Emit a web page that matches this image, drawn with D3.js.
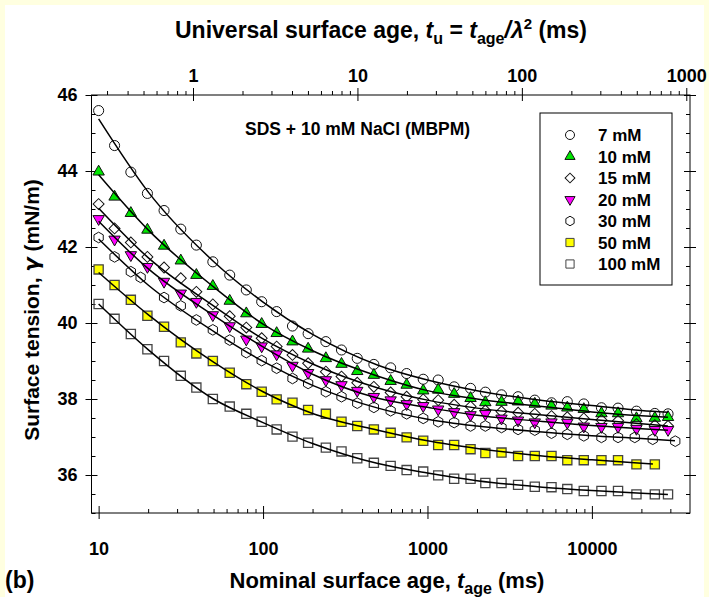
<!DOCTYPE html>
<html>
<head>
<meta charset="utf-8">
<script src="https://cdn.jsdelivr.net/npm/d3@7"></script>
<style>
  body { margin: 0; background: #ffffe0; }
  svg { display: block; font-family: "Liberation Sans", Arial, sans-serif; font-weight: bold; }
</style>
</head>
<body>
<div id="chart"></div>
<script>
// nominal surface ages (ms) shared by most series
var ages = [10.0, 12.5, 15.7, 19.8, 25.0, 31.6, 39.3, 49.5, 62.7, 79.1, 98.1, 121, 151, 188, 241, 300, 374, 472, 597, 747,
  942, 1162, 1453, 1828, 2249, 2820, 3557, 4494, 5679, 7085, 8925, 11430, 14420, 18660, 24140, 29040]
// the 30 mM run has its own ages
var ages30 = [10.0, 12.5, 15.7, 18.0, 25.0, 31.6, 39.3, 49.5, 62.7, 79.1, 98.1, 121, 151, 188, 241, 300, 374, 472, 597, 747,
  942, 1162, 1453, 1828, 2249, 2820, 3557, 4494, 5679, 7085, 8925, 11430, 14420, 18230, 23440, 32130]

// surface tension (mN/m)
var g7 = [45.59, 44.67, 43.97, 43.41, 42.96, 42.47, 42.05, 41.61, 41.26, 40.87, 40.56, 40.30, 39.92, 39.72, 39.51, 39.29,
  39.07, 38.91, 38.82, 38.67, 38.52, 38.50, 38.32, 38.28, 38.18, 38.11, 38.06, 37.97, 37.90, 37.93, 37.87, 37.77, 37.76,
  37.68, 37.62, 37.61]
var g10 = [43.98, 43.32, 42.89, 42.45, 42.03, 41.64, 41.26, 40.97, 40.58, 40.25, 39.97, 39.73, 39.51, 39.32, 39.07, 38.92,
  38.73, 38.63, 38.47, 38.37, 38.22, 38.24, 38.13, 38.02, 37.91, 37.92, 37.93, 37.87, 37.82, 37.77, 37.73, 37.62, 37.62,
  37.49, 37.50, 37.52]
var g15 = [43.13, 42.49, 42.12, 41.74, 41.46, 41.18, 40.82, 40.49, 40.18, 39.88, 39.60, 39.38, 39.16, 38.94, 38.72, 38.59,
  38.43, 38.32, 38.17, 38.06, 37.99, 37.97, 37.85, 37.80, 37.70, 37.67, 37.64, 37.61, 37.55, 37.52, 37.49, 37.45, 37.43,
  37.34, 37.31, 37.29]
var g20 = [42.74, 42.20, 41.79, 41.48, 41.09, 40.78, 40.56, 40.21, 39.92, 39.57, 39.39, 39.18, 38.88, 38.69, 38.50, 38.37,
  38.22, 38.06, 37.97, 37.87, 37.82, 37.73, 37.66, 37.58, 37.61, 37.49, 37.44, 37.39, 37.39, 37.38, 37.28, 37.27, 37.27,
  37.22, 37.19, 37.19]
var g30 = [42.25, 41.74, 41.35, 41.20, 40.67, 40.45, 40.08, 39.82, 39.55, 39.22, 39.01, 38.81, 38.54, 38.41, 38.19, 38.06,
  37.89, 37.78, 37.69, 37.61, 37.49, 37.40, 37.38, 37.29, 37.29, 37.25, 37.20, 37.18, 37.10, 37.07, 37.03, 36.99, 36.99,
  36.99, 36.94, 36.89]
var g50 = [41.41, 41.00, 40.61, 40.19, 39.90, 39.49, 39.20, 39.00, 38.69, 38.39, 38.19, 37.99, 37.90, 37.71, 37.61, 37.40,
  37.29, 37.20, 37.11, 36.99, 36.90, 36.79, 36.79, 36.68, 36.58, 36.59, 36.50, 36.50, 36.50, 36.39, 36.39, 36.39, 36.39,
  36.28, 36.28, null]
var g100 = [40.50, 40.11, 39.71, 39.31, 39.00, 38.61, 38.30, 38.00, 37.80, 37.61, 37.40, 37.20, 37.01, 36.85, 36.72, 36.62,
  36.44, 36.32, 36.24, 36.13, 36.09, 35.99, 35.90, 35.90, 35.79, 35.79, 35.74, 35.69, 35.68, 35.63, 35.58, 35.58, 35.58,
  35.49, 35.49, 35.49]

// fitted curves
var fitAges = [10, 20, 50, 100, 200, 500, 1000, 2000, 5000, 10000, 20000, 29000]
var fitAges30 = [10, 20, 50, 100, 200, 500, 1000, 2000, 5000, 10000, 20000, 32000]
var fitAges50 = [10, 20, 50, 100, 200, 500, 1000, 2000, 5000, 10000, 20000, 23500]
var fit7 = [45.37, 43.45, 41.62, 40.55, 39.70, 38.89, 38.50, 38.22, 37.96, 37.83, 37.70, 37.65]
var fit10 = [43.90, 42.45, 40.95, 39.97, 39.27, 38.60, 38.22, 38.00, 37.80, 37.66, 37.56, 37.52]
var fit15 = [43.02, 41.72, 40.45, 39.58, 38.92, 38.29, 37.97, 37.76, 37.58, 37.46, 37.35, 37.29]
var fit20 = [42.68, 41.43, 40.20, 39.37, 38.65, 38.02, 37.78, 37.57, 37.41, 37.30, 37.22, 37.18]
var fit30 = [42.21, 41.00, 39.78, 38.99, 38.36, 37.76, 37.47, 37.29, 37.13, 37.03, 36.96, 36.90]
var fit50 = [41.33, 40.22, 38.97, 38.19, 37.62, 37.18, 36.90, 36.70, 36.50, 36.40, 36.31, 36.29]
var fit100 = [40.50, 39.30, 38.00, 37.38, 36.83, 36.30, 36.05, 35.85, 35.68, 35.59, 35.52, 35.49]

var labels = ['7 mM', '10 mM', '15 mM', '20 mM', '30 mM', '50 mM', '100 mM']
var lambda2 = 37.5 // t_u = t_age / lambda^2

var xMajor = [10, 100, 1000, 10000]
var topMajor = [1, 10, 100, 1000]
var yMajor = [36, 38, 40, 42, 44, 46]

// hexagon symbol (pointy top)
var symbolHexagon = {
  draw: function(context, size) {
    var r = Math.sqrt(size / (1.5 * Math.sqrt(3)))
    for (var i = 0; i < 6; i++) {
      var a = Math.PI / 3 * i - Math.PI / 2
      if (i === 0) context.moveTo(r * Math.cos(a), r * Math.sin(a))
      else context.lineTo(r * Math.cos(a), r * Math.sin(a))
    }
    context.closePath()
  }
}

var series = [
  { ages: ages, values: g7, fitAges: fitAges, fit: fit7, type: d3.symbolCircle, size: 80, fill: 'none', rot: 0 },
  { ages: ages, values: g10, fitAges: fitAges, fit: fit10, type: d3.symbolTriangle, size: 56, fill: '#00e600', rot: 0 },
  { ages: ages, values: g15, fitAges: fitAges, fit: fit15, type: d3.symbolSquare, size: 60, fill: 'none', rot: 45 },
  { ages: ages, values: g20, fitAges: fitAges, fit: fit20, type: d3.symbolTriangle, size: 56, fill: '#ff00ff', rot: 180 },
  { ages: ages30, values: g30, fitAges: fitAges30, fit: fit30, type: symbolHexagon, size: 74, fill: 'none', rot: 0 },
  { ages: ages, values: g50, fitAges: fitAges50, fit: fit50, type: d3.symbolSquare, size: 84, fill: '#ffff00', rot: 0 },
  { ages: ages, values: g100, fitAges: fitAges, fit: fit100, type: d3.symbolSquare, size: 84, fill: 'none', rot: 0 }
]

var width = 709, height = 597
var plot = { left: 91.5, right: 690, top: 95, bottom: 513 }

var svg = d3.select('#chart').append('svg')
  .attr('width', width)
  .attr('height', height)

svg.append('rect')
  .attr('x', 5).attr('y', 5)
  .attr('width', width - 10).attr('height', height - 5)
  .attr('fill', '#ffffff')

var x = d3.scaleLog().domain([9.05, 39500]).range([plot.left, plot.right])
var xTop = d3.scaleLog().domain([9.05 / lambda2, 39500 / lambda2]).range([plot.left, plot.right])
var y = d3.scaleLinear().domain([35, 46]).range([plot.bottom, plot.top])

function minorLog(scale, majors) {
  var d = scale.domain()
  return scale.ticks().filter(function(v) {
    return v >= d[0] && v <= d[1] && majors.indexOf(v) < 0
  })
}
var xMinor = minorLog(x, xMajor)
var topMinor = minorLog(xTop, topMajor)
var yMinor = d3.range(35, 46.01, 0.5).filter(function(v) { return yMajor.indexOf(v) < 0 && v % 2 !== 0 })

function clean(g) {
  g.select('.domain').remove()
  g.selectAll('line').attr('stroke', '#000').attr('stroke-width', 1)
  g.selectAll('text').attr('fill', '#000')
}

// bottom axis
svg.append('g').attr('transform', 'translate(0,' + plot.bottom + ')')
  .call(d3.axisBottom(x).tickValues(xMajor).tickSize(6).tickPadding(23).tickFormat(d3.format('d')))
  .call(clean)
  .selectAll('text').style('font-size', '18px').style('font-weight', 'bold')
svg.append('g').attr('transform', 'translate(0,' + plot.bottom + ')')
  .call(d3.axisTop(x).tickValues(xMajor).tickSize(7).tickFormat(''))
  .call(clean)
svg.append('g').attr('transform', 'translate(0,' + plot.bottom + ')')
  .call(d3.axisTop(x).tickValues(xMinor).tickSize(4).tickFormat(''))
  .call(clean)

// top axis (universal surface age)
svg.append('g').attr('transform', 'translate(0,' + plot.top + ')')
  .call(d3.axisTop(xTop).tickValues(topMajor).tickSize(7).tickPadding(6).tickFormat(d3.format('d')))
  .call(clean)
  .selectAll('text').style('font-size', '18px').style('font-weight', 'bold')
svg.append('g').attr('transform', 'translate(0,' + plot.top + ')')
  .call(d3.axisBottom(xTop).tickValues(topMajor).tickSize(6).tickFormat(''))
  .call(clean)
svg.append('g').attr('transform', 'translate(0,' + plot.top + ')')
  .call(d3.axisTop(xTop).tickValues(topMinor).tickSize(4).tickFormat(''))
  .call(clean)

// left axis
svg.append('g').attr('transform', 'translate(' + plot.left + ',0)')
  .call(d3.axisLeft(y).tickValues(yMajor).tickSize(6).tickPadding(8))
  .call(clean)
  .selectAll('text').style('font-size', '18px').style('font-weight', 'bold')
svg.append('g').attr('transform', 'translate(' + plot.left + ',0)')
  .call(d3.axisRight(y).tickValues(yMajor).tickSize(6).tickFormat(''))
  .call(clean)
svg.append('g').attr('transform', 'translate(' + plot.left + ',0)')
  .call(d3.axisRight(y).tickValues(yMinor).tickSize(4).tickFormat(''))
  .call(clean)

// right axis
svg.append('g').attr('transform', 'translate(' + plot.right + ',0)')
  .call(d3.axisRight(y).tickValues(yMajor).tickSize(6).tickFormat(''))
  .call(clean)
svg.append('g').attr('transform', 'translate(' + plot.right + ',0)')
  .call(d3.axisLeft(y).tickValues(yMajor).tickSize(6).tickFormat(''))
  .call(clean)
svg.append('g').attr('transform', 'translate(' + plot.right + ',0)')
  .call(d3.axisLeft(y).tickValues(yMinor).tickSize(4).tickFormat(''))
  .call(clean)

// frame
svg.append('rect')
  .attr('x', plot.left).attr('y', plot.top)
  .attr('width', plot.right - plot.left).attr('height', plot.bottom - plot.top)
  .attr('fill', 'none').attr('stroke', '#000').attr('stroke-width', 1)

// markers
function strokeFor(s) { return s.type === d3.symbolSquare && s.rot === 0 ? '#444' : '#111' }

series.forEach(function(s) {
  var pts = s.values.map(function(v, i) { return { t: s.ages[i], v: v } })
    .filter(function(p) { return p.v !== null })
  svg.append('g').selectAll('path')
    .data(pts)
    .enter().append('path')
    .attr('d', d3.symbol().type(s.type).size(s.size))
    .attr('transform', function(p) {
      return 'translate(' + x(p.t) + ',' + y(p.v) + ') rotate(' + s.rot + ')'
    })
    .attr('fill', s.fill)
    .attr('stroke', strokeFor(s))
    .attr('stroke-width', s.type === d3.symbolSquare && s.rot === 0 ? 1.3 : 1)
})

// fitted lines on top of the markers
var line = d3.line()
  .curve(d3.curveMonotoneX)
  .x(function(d) { return x(d[0]) })
  .y(function(d) { return y(d[1]) })

series.forEach(function(s) {
  svg.append('path')
    .attr('d', line(s.fit.map(function(v, i) { return [s.fitAges[i], v] })))
    .attr('fill', 'none')
    .attr('stroke', '#000')
    .attr('stroke-width', 1.5)
})

// legend
svg.append('rect')
  .attr('x', 540).attr('y', 113)
  .attr('width', 132).attr('height', 172)
  .attr('fill', '#fff').attr('stroke', '#000').attr('stroke-width', 1)

var legend = svg.append('g')
  .selectAll('g')
  .data(series)
  .enter().append('g')
  .attr('transform', function(d, i) { return 'translate(570,' + (135 + i * 21.5) + ')' })

legend.append('path')
  .attr('d', function(s) { return d3.symbol().type(s.type).size(s.size * 0.8)() })
  .attr('transform', function(s) { return 'rotate(' + s.rot + ')' })
  .attr('fill', function(s) { return s.fill === 'none' ? '#fff' : s.fill })
  .attr('stroke', strokeFor)
  .attr('stroke-width', 1)

legend.append('text')
  .attr('x', 28).attr('y', 6)
  .style('font-size', '17px')
  .text(function(d, i) { return labels[i] })

// annotation
svg.append('text')
  .attr('x', 245).attr('y', 135)
  .style('font-size', '17.5px')
  .text('SDS + 10 mM NaCl (MBPM)')

// top title
var tt = svg.append('text')
  .attr('x', 381).attr('y', 38)
  .attr('text-anchor', 'middle')
  .style('font-size', '23px')
tt.append('tspan').text('Universal surface age, ')
tt.append('tspan').style('font-style', 'italic').text('t')
tt.append('tspan').attr('dy', 6).style('font-size', '16px').text('u')
tt.append('tspan').attr('dy', -6).text(' = ')
tt.append('tspan').style('font-style', 'italic').text('t')
tt.append('tspan').attr('dy', 6).style('font-size', '16px').text('age')
tt.append('tspan').attr('dy', -6).style('font-style', 'italic').text('/\u03bb')
tt.append('tspan').attr('dy', -9).style('font-size', '15px').text('2')
tt.append('tspan').attr('dy', 9).text(' (ms)')

// bottom title
var bt = svg.append('text')
  .attr('x', 387).attr('y', 588)
  .attr('text-anchor', 'middle')
  .style('font-size', '22px')
bt.append('tspan').text('Nominal surface age, ')
bt.append('tspan').style('font-style', 'italic').text('t')
bt.append('tspan').attr('dy', 6).style('font-size', '16px').text('age')
bt.append('tspan').attr('dy', -6).text(' (ms)')

// panel label
svg.append('text')
  .attr('x', 5).attr('y', 588)
  .style('font-size', '23px')
  .text('(b)')

// y title
var yt = svg.append('text')
  .attr('transform', 'translate(39,310) rotate(-90)')
  .attr('text-anchor', 'middle')
  .style('font-size', '21px')
yt.append('tspan').text('Surface tension, ')
yt.append('tspan').style('font-style', 'italic').style('font-family', 'DejaVu Sans').text('\u03b3')
yt.append('tspan').text(' (mN/m)')
</script>
</body>
</html>
